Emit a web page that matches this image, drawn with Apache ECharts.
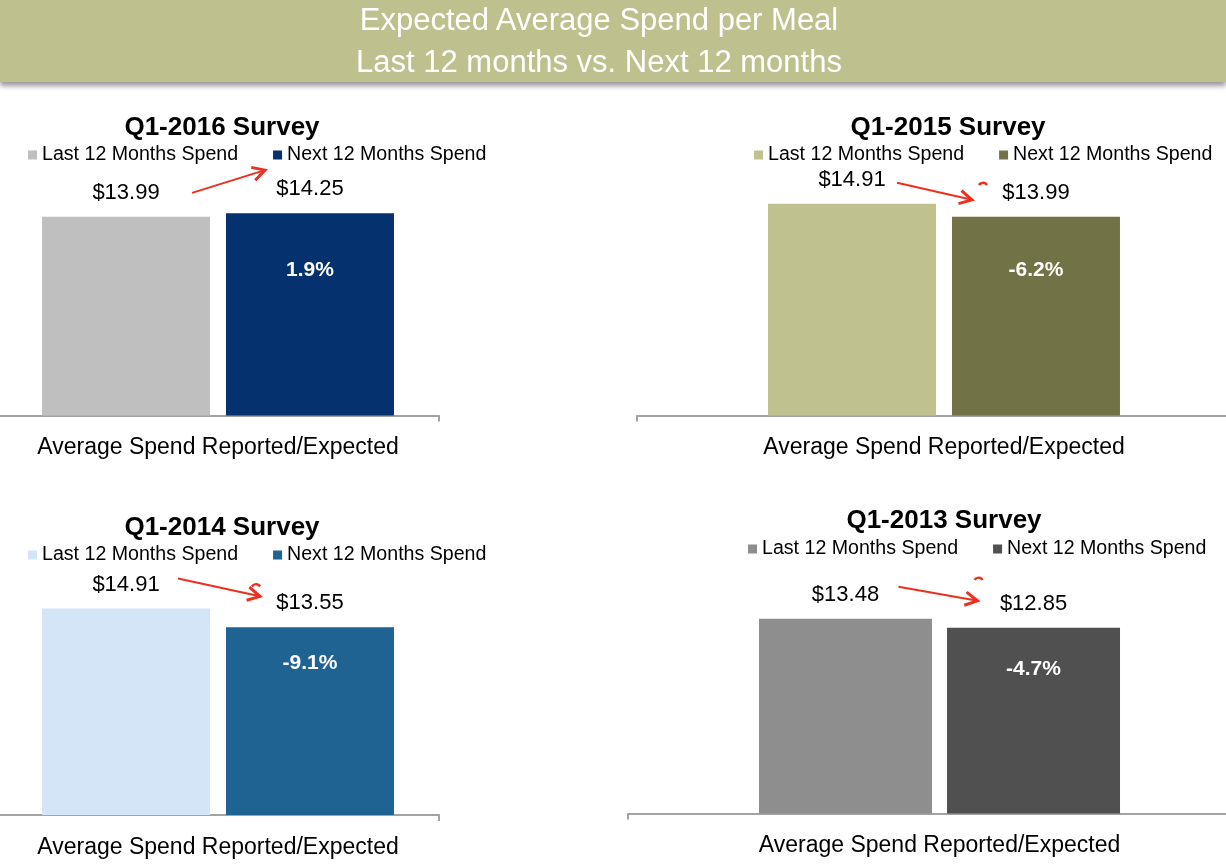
<!DOCTYPE html>
<html>
<head>
<meta charset="utf-8">
<script src="https://cdn.jsdelivr.net/npm/echarts@6/dist/echarts.min.js"></script>
<style>
html,body{margin:0;padding:0;width:1226px;height:866px;overflow:hidden;background:#fff;}
.chart{position:absolute;left:-50px;top:0;width:1350px;height:866px;}
#header{position:absolute;left:0;top:0;width:1226px;height:82px;background:#BEC18E;
  box-shadow:0 4px 5px rgba(0,0,0,0.40);z-index:5;color:#fff;
  font-family:"Liberation Sans",Arial,sans-serif;font-size:31px;line-height:42px;}
#header div{position:absolute;left:0;width:1198px;text-align:center;}
</style>
</head>
<body>
<div id="c0" class="chart"></div>
<div id="c1" class="chart"></div>
<div id="c2" class="chart"></div>
<div id="c3" class="chart"></div>
<div id="header">
  <div style="top:-1px">Expected Average Spend per Meal</div>
  <div style="top:41px">Last 12 months vs. Next 12 months</div>
</div>
<script>
// ---------- DATA ----------
const surveys = ['Q1-2016 Survey', 'Q1-2015 Survey', 'Q1-2014 Survey', 'Q1-2013 Survey'];
const seriesNames = ['Last 12 Months Spend', 'Next 12 Months Spend'];
const categories = ['Average Spend Reported/Expected'];
const lastSpend = [13.99, 14.91, 14.91, 13.48];
const nextSpend = [14.25, 13.99, 13.55, 12.85];
const pctChange = [1.9, -6.2, -9.1, -4.7];

// ---------- LAYOUT / STYLE ----------
const FONT = '"Liberation Sans", Arial, sans-serif';
const AXIS_MAX = 16;
const RED = '#EE2E1F';
const OX = 50; // chart canvases start 50px left of the page
const layout = [
  {title:[222,128], legend:[28,145], gridLeft:-3, gridWidth:442, base:415.5, scale:14.2, barW:168, gap:'9.5%',
   pctDy:57, aS:[66,-24], aE:[-45,-43], mark:null, colors:['#BFBFBF','#06316F']},
  {title:[948,128], legend:[754,145], gridLeft:637, gridWidth:614, base:415.5, scale:14.2, barW:168, gap:'9.5%',
   pctDy:53, aS:[45,-21], aE:[-64,-17], mark:[-53,-33], colors:['#BFC18F','#717346']},
  {title:[222,528], legend:[28,545], gridLeft:-3, gridWidth:442, base:815, scale:13.85, barW:168, gap:'9.5%',
   pctDy:36, aS:[52,-30], aE:[-50,-31], mark:[-54,-42], colors:['#D3E5F6','#1E6391']},
  {title:[944,521], legend:[748,539], gridLeft:628, gridWidth:623, base:813.5, scale:14.45, barW:173, gap:'8.7%',
   pctDy:41, aS:[53,-32], aE:[-56,-27], mark:[-55,-49], colors:['#8E8E8E','#505050']}
];

function barInfo(chart, si) {
  const l = chart.getModel().getSeriesByIndex(si).getData().getItemLayout(0);
  return {cx: l.x + l.width / 2, top: Math.min(l.y, l.y + l.height)};
}

surveys.forEach((title, i) => {
  const L = layout[i];
  const chart = echarts.init(document.getElementById('c' + i), null, {renderer: 'canvas'});
  const valueLabel = {
    show: true, position: 'top', distance: 13,
    formatter: p => '$' + p.value.toFixed(2),
    fontSize: 22, color: '#000', fontFamily: FONT
  };
  chart.setOption({
    animation: false,
    textStyle: {fontFamily: FONT},
    title: {
      text: title, left: L.title[0] + OX, top: L.title[1], textAlign: 'center', textVerticalAlign: 'middle',
      padding: 0, textStyle: {fontSize: 26, fontWeight: 'bold', color: '#000', fontFamily: FONT}
    },
    legend: {
      data: seriesNames, left: L.legend[0] + OX, top: L.legend[1], padding: 0, icon: 'rect',
      itemWidth: 9, itemHeight: 9, itemGap: 35,
      textStyle: {fontSize: 19.6, color: '#000', fontFamily: FONT}
    },
    grid: {left: L.gridLeft + OX, width: L.gridWidth, top: L.base - L.scale * AXIS_MAX, height: L.scale * AXIS_MAX},
    xAxis: {
      type: 'category', data: categories,
      axisLine: {lineStyle: {color: '#A3A3A3', width: 2}},
      axisTick: {show: true, length: 6, lineStyle: {color: '#A3A3A3', width: 2}},
      axisLabel: {fontSize: 23, color: '#000', margin: 21, fontFamily: FONT}
    },
    yAxis: {type: 'value', min: 0, max: AXIS_MAX, show: false},
    series: [
      {type: 'bar', name: seriesNames[0], data: [lastSpend[i]], barWidth: L.barW,
       itemStyle: {color: L.colors[0]}, label: valueLabel},
      {type: 'bar', name: seriesNames[1], data: [nextSpend[i]], barWidth: L.barW, barGap: L.gap,
       itemStyle: {color: L.colors[1]}, label: valueLabel}
    ]
  });

  // annotations derived from the laid-out bars
  const b1 = barInfo(chart, 0), b2 = barInfo(chart, 1);
  const S = [b1.cx + L.aS[0], b1.top + L.aS[1]];
  const E = [b2.cx + L.aE[0], b2.top + L.aE[1]];
  const dx = E[0] - S[0], dy = E[1] - S[1], len = Math.hypot(dx, dy);
  const ux = dx / len, uy = dy / len;
  const wing = (ang) => {
    const c = Math.cos(ang), s = Math.sin(ang);
    const rx = ux * c - uy * s, ry = ux * s + uy * c;
    return [E[0] - rx * 14, E[1] - ry * 14];
  };
  const pct = pctChange[i];
  const graphics = [
    {type: 'polyline', shape: {points: [S, E]}, style: {stroke: RED, lineWidth: 2, fill: null}, z: 20},
    {type: 'polyline', shape: {points: [wing(0.5), E, wing(-0.5)]},
     style: {stroke: RED, lineWidth: 3, fill: null, lineJoin: 'miter'}, z: 20},
    {type: 'text', x: b2.cx, y: b2.top + L.pctDy, z: 20,
     style: {text: pct.toFixed(1) + '%', fill: '#fff', font: 'bold 21px ' + FONT,
             textAlign: 'center', textVerticalAlign: 'middle'}}
  ];
  if (L.mark) {
    graphics.push({type: 'arc', z: 20,
      shape: {cx: b2.cx + L.mark[0], cy: b2.top + L.mark[1] + 4, r: 5, startAngle: Math.PI * 1.2, endAngle: Math.PI * 1.8},
      style: {stroke: RED, lineWidth: 2.5, fill: null}});
  }
  chart.setOption({graphic: graphics});
});
</script>
</body>
</html>
